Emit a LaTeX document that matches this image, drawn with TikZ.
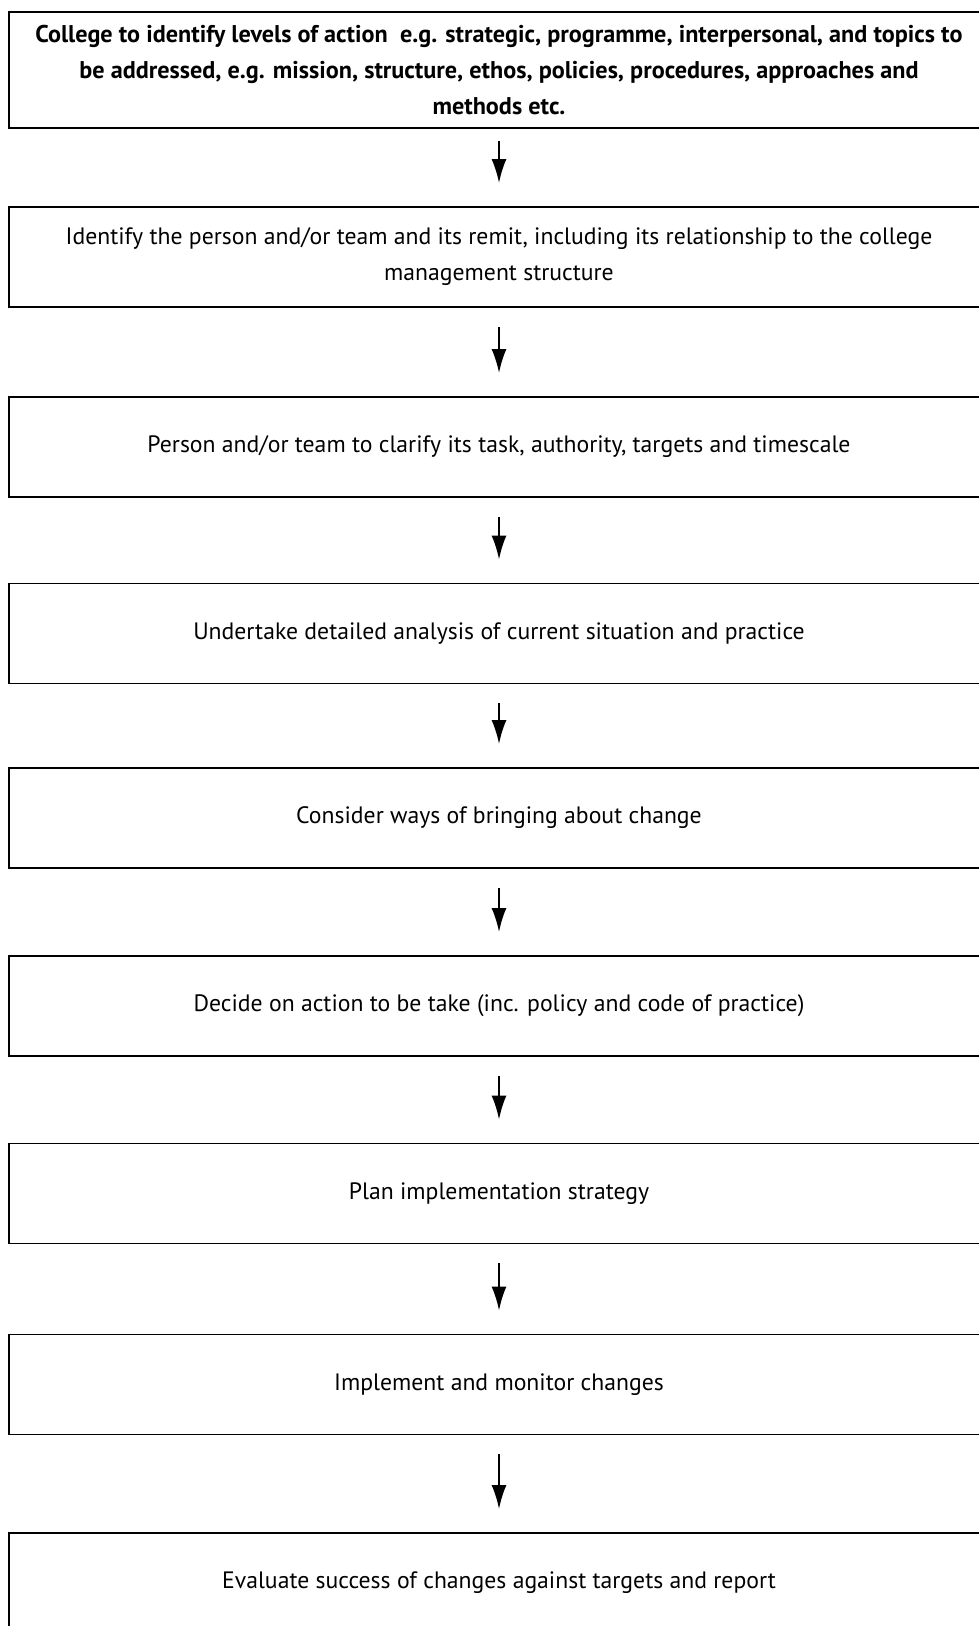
\documentclass[tikz,border=0pt]{standalone}
\usepackage{fontspec}
\setmainfont{PT Sans}
\usetikzlibrary{positioning,arrows.meta}

\begin{document}
\begin{tikzpicture}[x=1pt, y=-1pt,
    stepbox/.style={rectangle, draw, line width=1.8pt, minimum width=980pt, minimum height=100pt, inner sep=0pt, align=center, font=\fontsize{23.7}{36}\selectfont},
    flow/.style={-{Latex[length=24pt,width=15pt]}, line width=2.2pt, shorten <=19pt, shorten >=23pt}]
    \useasboundingbox (0,0) rectangle (979,1626);
    \clip (0,0) rectangle (979,1626);

    % Process steps
    \node[stepbox, minimum height=116pt, font=\fontsize{24.2}{36}\selectfont\bfseries] (levels) at (499,70) {College to identify levels of action\ \ e.g. strategic, programme, interpersonal, and topics to\\be addressed, e.g. mission, structure, ethos, policies, procedures, approaches and\\methods etc.};
    \node[stepbox] (team) at (499,257) {Identify the person and/or team and its remit, including its relationship to the college\\management structure};
    \node[stepbox] (task) at (499,447) {Person and/or team to clarify its task, authority, targets and timescale};
    \node[stepbox] (analysis) at (499,633.5) {Undertake detailed analysis of current situation and practice};
    \node[stepbox] (ways) at (499,818) {Consider ways of bringing about change};
    \node[stepbox] (decide) at (499,1006) {Decide on action to be take (inc. policy and code of practice)};
    \node[stepbox] (plan) at (499,1193.5) {Plan implementation strategy};
    \node[stepbox] (implement) at (499,1384.5) {Implement and monitor changes};
    \node[stepbox] (evaluate) at (499,1583) {Evaluate success of changes against targets and report};

    % Arrows
    \draw[flow, shorten <=12pt] (levels) -- (team);
    \draw[flow] (team) -- (task);
    \draw[flow] (task) -- (analysis);
    \draw[flow] (analysis) -- (ways);
    \draw[flow] (ways) -- (decide);
    \draw[flow] (decide) -- (plan);
    \draw[flow] (plan) -- (implement);
    \draw[flow] (implement) -- (evaluate);
\end{tikzpicture}
\end{document}
